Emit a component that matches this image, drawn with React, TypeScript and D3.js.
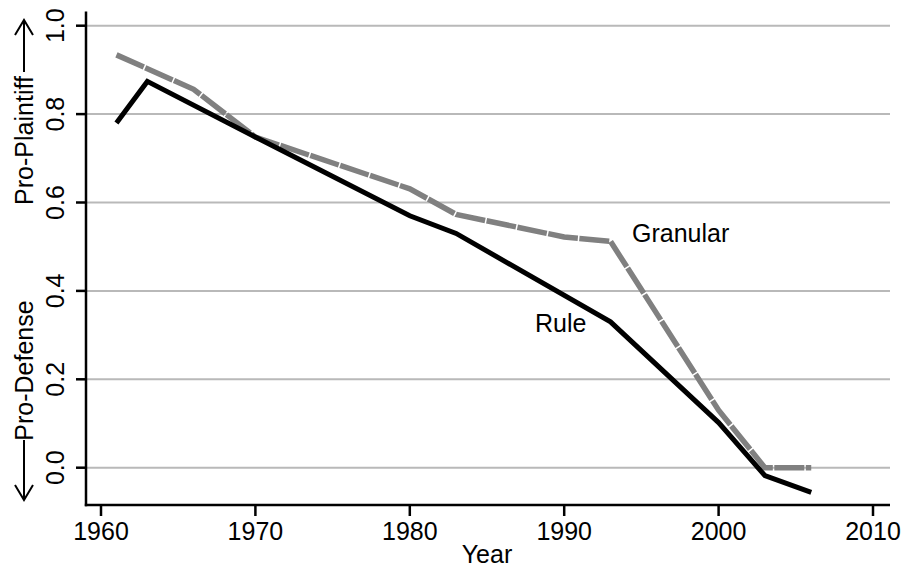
import React from "react";
import * as d3 from "d3";

const ruleYears = [1961, 1963, 1970, 1980, 1983, 1993, 2000, 2003, 2006];
const ruleValues = [0.78, 0.874, 0.748, 0.57, 0.53, 0.33, 0.102, -0.018, -0.056];
const granularYears = [1961, 1966, 1970, 1980, 1983, 1990, 1993, 2000, 2003, 2006];
const granularValues = [0.934, 0.856, 0.748, 0.631, 0.573, 0.522, 0.512, 0.13, 0.0, 0.0];
const xTicks = [1960, 1970, 1980, 1990, 2000, 2010];
const yTicks = [0, 0.2, 0.4, 0.6, 0.8, 1.0];

const W = 908;
const H = 567;
const FONT = "'Liberation Sans', Arial, sans-serif";

export default function App() {
  const x = d3.scaleLinear().domain([1960, 2010]).range([101, 873]);
  const y = d3.scaleLinear().domain([0, 1]).range([467.7, 25.7]);
  const axisX = 86;
  const axisY = 505;
  const axisRight = 890;
  const axisTop = 11.5;

  const line = d3
    .line<[number, number]>()
    .x((d) => x(d[0]))
    .y((d) => y(d[1]));

  const rulePts = ruleYears.map((yr, i) => [yr, ruleValues[i]] as [number, number]);
  const granPts = granularYears.map((yr, i) => [yr, granularValues[i]] as [number, number]);

  const arrow = (x0: number, yTail: number, yTip: number) => {
    const dir = yTip < yTail ? 1 : -1;
    return (
      <g stroke="#000" strokeWidth={2} fill="none">
        <line x1={x0} y1={yTail} x2={x0} y2={yTip} />
        <path
          d={`M${x0 - 9},${yTip + dir * 15} L${x0},${yTip} L${x0 + 9},${yTip + dir * 15}`}
        />
      </g>
    );
  };

  return (
    <svg
      width={W}
      height={H}
      style={{ position: "fixed", left: 0, top: 0, background: "#fff" }}
      fontFamily={FONT}
    >
      <rect width={W} height={H} fill="#fff" />
      {yTicks.map((t) => (
        <line
          key={"g" + t}
          x1={axisX}
          x2={axisRight}
          y1={y(t)}
          y2={y(t)}
          stroke="#b9b9b9"
          strokeWidth={2}
        />
      ))}
      <path
        d={line(granPts) || ""}
        fill="none"
        stroke="#808080"
        strokeWidth={5.5}
        strokeDasharray="30 1.5"
        strokeLinejoin="miter"
      />
      <path
        d={line(rulePts) || ""}
        fill="none"
        stroke="#000"
        strokeWidth={5}
        strokeLinejoin="miter"
      />
      <line x1={axisX} x2={axisX} y1={axisTop} y2={axisY + 1.2} stroke="#000" strokeWidth={2.5} />
      <line x1={axisX - 1.2} x2={axisRight} y1={axisY} y2={axisY} stroke="#000" strokeWidth={2.5} />
      {yTicks.map((t) => (
        <g key={"yt" + t}>
          <line x1={axisX - 10} x2={axisX} y1={y(t)} y2={y(t)} stroke="#000" strokeWidth={2.5} />
          <text
            transform={`translate(64,${y(t)}) rotate(-90)`}
            textAnchor="middle"
            fontSize={25}
            fill="#000"
          >
            {t.toFixed(1)}
          </text>
        </g>
      ))}
      {xTicks.map((t) => (
        <g key={"xt" + t}>
          <line x1={x(t)} x2={x(t)} y1={axisY} y2={axisY + 11} stroke="#000" strokeWidth={2.5} />
          <text x={x(t)} y={540} textAnchor="middle" fontSize={25} fill="#000">
            {t}
          </text>
        </g>
      ))}
      <text x={(x(1960) + x(2010)) / 2} y={563} textAnchor="middle" fontSize={25} fill="#000">
        Year
      </text>
      <text
        transform={`translate(33,140.5) rotate(-90)`}
        textAnchor="middle"
        fontSize={25}
        fill="#000"
      >
        Pro-Plaintiff
      </text>
      <text
        transform={`translate(33,370.5) rotate(-90)`}
        textAnchor="middle"
        fontSize={25}
        fill="#000"
      >
        Pro-Defense
      </text>
      {arrow(24, 72, 20)}
      {arrow(24, 440, 500)}
      <text x={632} y={242} fontSize={25} fill="#000">
        Granular
      </text>
      <text x={535} y={332} fontSize={25} fill="#000">
        Rule
      </text>
    </svg>
  );
}
